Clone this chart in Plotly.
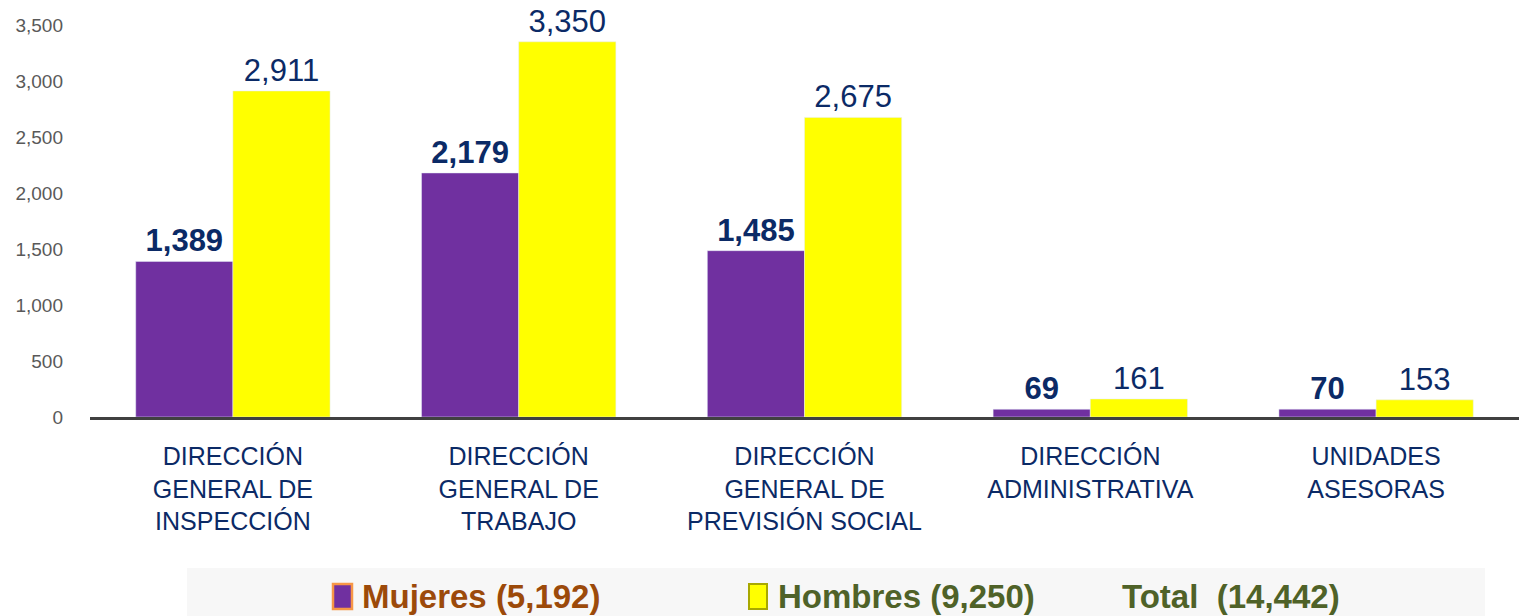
import plotly.graph_objects as go

categories = [
    "DIRECCIÓN<br>GENERAL DE<br>INSPECCIÓN",
    "DIRECCIÓN<br>GENERAL DE<br>TRABAJO",
    "DIRECCIÓN<br>GENERAL DE<br>PREVISIÓN SOCIAL",
    "DIRECCIÓN<br>ADMINISTRATIVA",
    "UNIDADES<br>ASESORAS",
]
mujeres = [1389, 2179, 1485, 69, 70]
hombres = [2911, 3350, 2675, 161, 153]
y_ticks = [0, 500, 1000, 1500, 2000, 2500, 3000, 3500]

total_m = sum(mujeres)
total_h = sum(hombres)
total = total_m + total_h

W, H = 1519, 616
ML, MR, MT, MB = 90, 0, 25, 199
PW = W - ML - MR
PH = H - MT - MB

def px(x):
    return (x - ML) / PW

def py(y):
    return (H - MB - y) / PH

NAVY = "#0B2A66"

fig = go.Figure()
fig.add_trace(go.Bar(
    x=categories, y=mujeres, name="Mujeres",
    marker=dict(color="#7030A0"),
    texttemplate="<b>%{y:,}</b>", textposition="outside",
    textfont=dict(family="Liberation Sans, Arial, sans-serif", size=31, color=NAVY),
    cliponaxis=False, showlegend=False,
))
fig.add_trace(go.Bar(
    x=categories, y=hombres, name="Hombres",
    marker=dict(color="#FFFF00"),
    texttemplate="%{y:,}", textposition="outside",
    textfont=dict(family="Liberation Sans, Arial, sans-serif", size=31, color=NAVY),
    cliponaxis=False, showlegend=False,
))

fig.update_layout(
    width=W, height=H,
    margin=dict(l=ML, r=MR, t=MT, b=MB, pad=0),
    paper_bgcolor="white", plot_bgcolor="white",
    barmode="group", bargap=0.32, bargroupgap=0.0,
    font=dict(family="Liberation Sans, Arial, sans-serif"),
    xaxis=dict(
        showline=True, linecolor="#404040", linewidth=3,
        showgrid=False, ticks="",
        tickfont=dict(size=25, color=NAVY),
        ticklabelstandoff=15,
        automargin=False,
    ),
    yaxis=dict(
        range=[0, 3500], tickvals=y_ticks, tickformat=",",
        showgrid=False, zeroline=False, showline=False, ticks="",
        tickfont=dict(size=19, color="#595959"),
        ticklabelstandoff=26,
        automargin=False,
    ),
)

# legend band
fig.add_shape(type="rect", xref="paper", yref="paper",
              x0=px(187), x1=px(1485), y0=py(568), y1=py(616),
              fillcolor="#F7F7F7", line=dict(width=0), layer="below")

LEG_Y = py(596)
LEG_FONT = "Liberation Sans Narrow, Arial Narrow, sans-serif"
# markers
fig.add_shape(type="rect", xref="paper", yref="paper",
              x0=px(333), x1=px(352), y0=py(584), y1=py(609),
              fillcolor="#7030A0", line=dict(color="#F79646", width=2.5))
fig.add_shape(type="rect", xref="paper", yref="paper",
              x0=px(749), x1=px(767), y0=py(584), y1=py(609),
              fillcolor="#FFFF00", line=dict(color="#A8A800", width=2))

fig.add_annotation(xref="paper", yref="paper", x=px(360), y=LEG_Y,
                   xanchor="left", yanchor="middle", showarrow=False,
                   text=f"<b>Mujeres ({total_m:,})</b>",
                   font=dict(family=LEG_FONT, size=33, color="#9C4A0A"))
fig.add_annotation(xref="paper", yref="paper", x=px(776), y=LEG_Y,
                   xanchor="left", yanchor="middle", showarrow=False,
                   text=f"<b>Hombres ({total_h:,})</b>",
                   font=dict(family=LEG_FONT, size=33, color="#4F6228"))
fig.add_annotation(xref="paper", yref="paper", x=px(1120), y=LEG_Y,
                   xanchor="left", yanchor="middle", showarrow=False,
                   text=f"<b>Total  ({total:,})</b>",
                   font=dict(family=LEG_FONT, size=33, color="#4F6228"))

fig.write_html("out.html",
               config={"displayModeBar": False},
               post_script="document.body.style.margin='0';document.body.style.overflow='hidden';")
